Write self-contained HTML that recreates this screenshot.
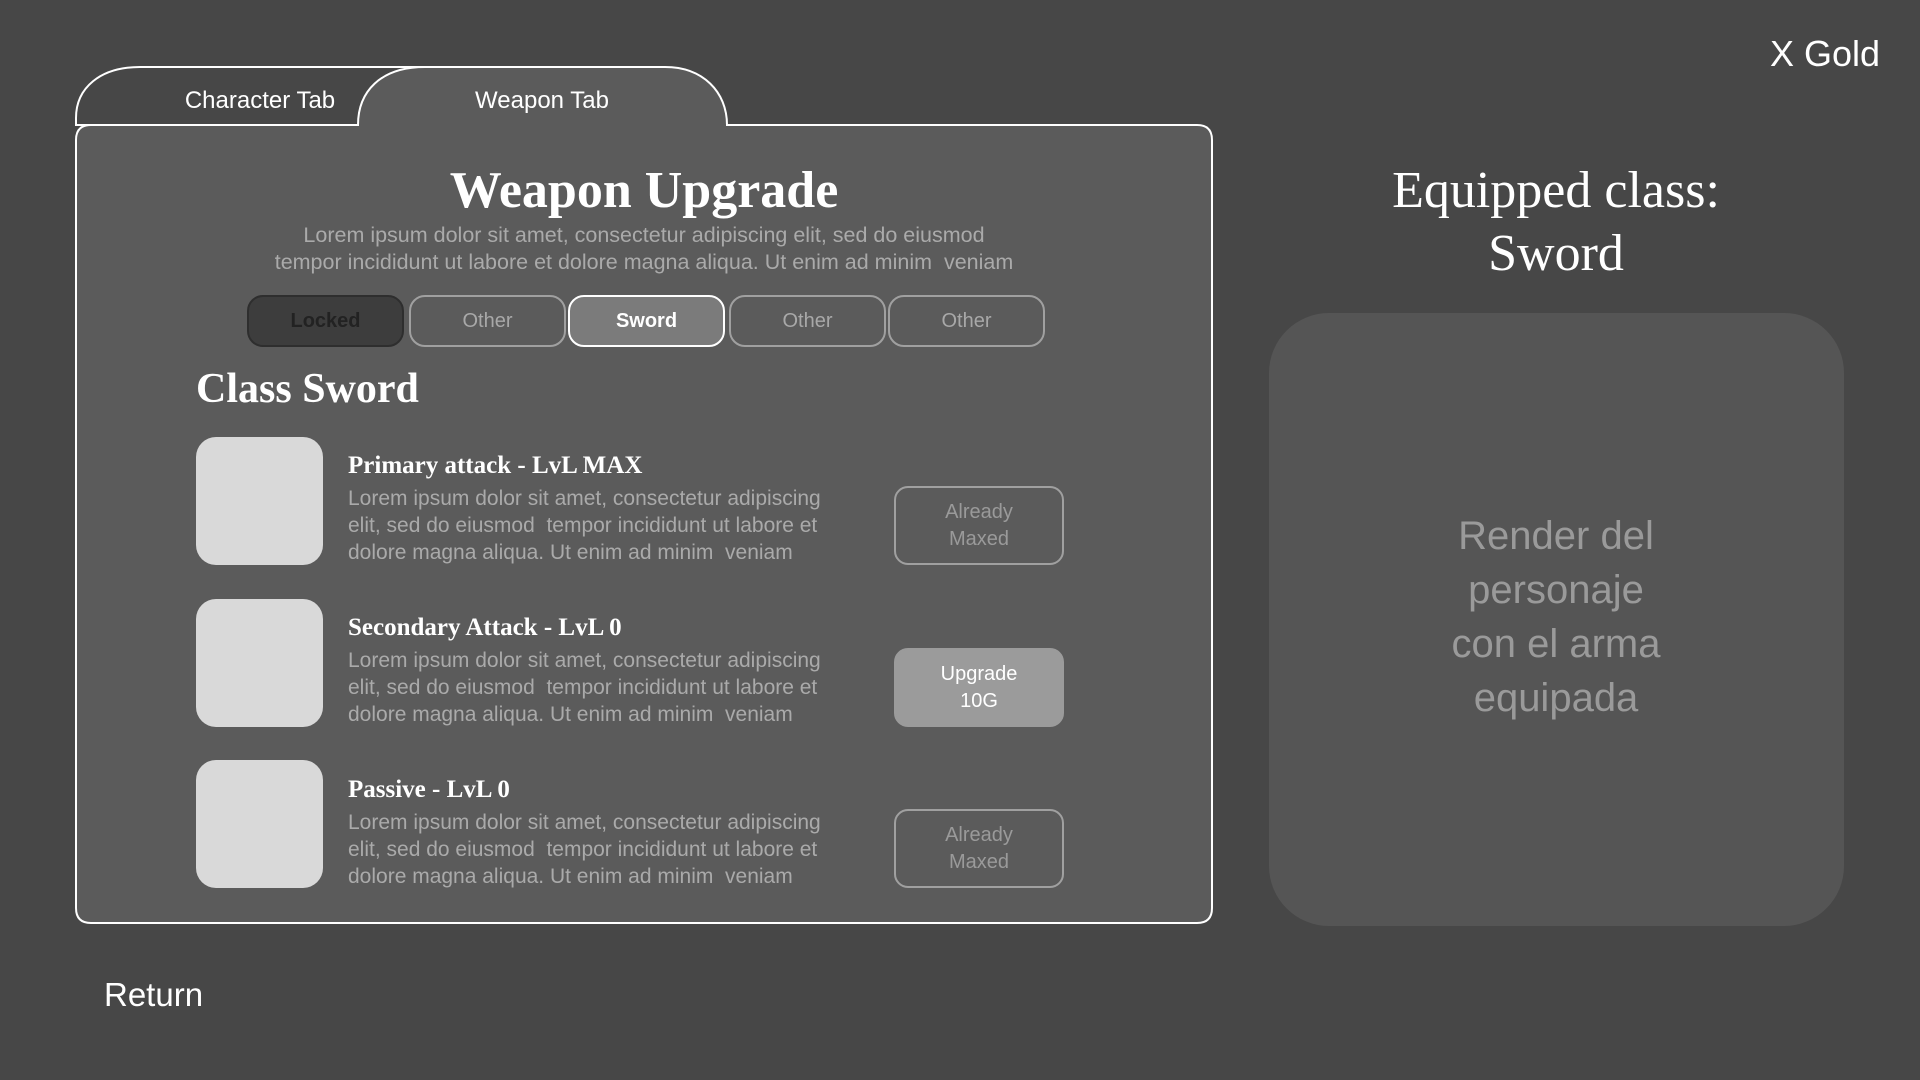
<!DOCTYPE html>
<html><head><meta charset="utf-8"><style>
body{margin:0;width:1920px;height:1080px;background:#474747;position:relative;overflow:hidden;font-family:"Liberation Sans",sans-serif;}
.t{position:absolute;white-space:nowrap;line-height:1;}
.c{transform:translateX(-50%);text-align:center;}
.serif{font-family:"Liberation Serif",serif;}
.btn{position:absolute;top:295px;height:48px;width:153px;border-radius:16px;border:2px solid #a0a0a0;box-sizing:content-box;color:#a8a8a8;font-size:20px;display:flex;align-items:center;justify-content:center;}
.icon{position:absolute;left:196px;width:127px;height:128px;background:#d9d9d9;border-radius:20px;}
.it{position:absolute;left:348px;font-family:"Liberation Serif",serif;font-weight:bold;color:#fff;font-size:25px;white-space:nowrap;}
.d{position:absolute;left:348px;color:#aaa;font-size:21px;line-height:27px;white-space:nowrap;}
.ab{position:absolute;left:894px;width:166px;height:75px;border:2px solid #a0a0a0;border-radius:14px;color:#9a9a9a;font-size:20px;line-height:27px;display:flex;align-items:center;justify-content:center;text-align:center;}
</style></head><body>
<svg width="1920" height="1080" style="position:absolute;left:0;top:0">
<path d="M76,125 L76,118 C76,88 100,67 140,67 L430,67 L400,125 Z" fill="#474747" stroke="#fff" stroke-width="2"/>
<path d="M91,125 L358,125 C358,92 380,67 425,67 L665,67 C703,67 727,92 727,125 L1197,125 Q1212,125 1212,140 L1212,908 Q1212,923 1197,923 L91,923 Q76,923 76,908 L76,140 Q76,125 91,125 Z" fill="#5b5b5b" stroke="#fff" stroke-width="2"/>
<rect x="1269" y="313" width="575" height="613" rx="60" fill="#555"/>
</svg>
<div class="t c" style="left:260px;top:89px;font-size:24px;color:#fff">Character Tab</div>
<div class="t c" style="left:542px;top:89px;font-size:24px;color:#fff">Weapon Tab</div>
<div class="t c serif" style="left:644px;top:165px;font-size:52px;font-weight:bold;color:#fff">Weapon Upgrade</div>
<div class="t c" style="left:644px;top:222px;font-size:21.5px;color:#aaa;line-height:27px">Lorem ipsum dolor sit amet, consectetur adipiscing elit, sed do eiusmod<br>tempor incididunt ut labore et dolore magna aliqua. Ut enim ad minim &nbsp;veniam</div>
<div class="btn" style="left:247px;background:#3d3d3d;border-color:#2e2e2e;color:#222;font-weight:bold">Locked</div>
<div class="btn" style="left:409px">Other</div>
<div class="btn" style="left:568px;background:#7b7b7b;border-color:#fff;color:#fff;font-weight:bold">Sword</div>
<div class="btn" style="left:729px">Other</div>
<div class="btn" style="left:888px">Other</div>
<div class="t serif" style="left:196px;top:368px;font-size:42px;font-weight:bold;color:#fff">Class Sword</div>
<div class="icon" style="top:437px"></div>
<div class="icon" style="top:599px"></div>
<div class="icon" style="top:760px"></div>
<div class="it" style="top:452px">Primary attack - LvL MAX</div>
<div class="d" style="top:485px">Lorem ipsum dolor sit amet, consectetur adipiscing<br>elit, sed do eiusmod &nbsp;tempor incididunt ut labore et<br>dolore magna aliqua. Ut enim ad minim &nbsp;veniam</div>
<div class="it" style="top:614px">Secondary Attack - LvL 0</div>
<div class="d" style="top:647px">Lorem ipsum dolor sit amet, consectetur adipiscing<br>elit, sed do eiusmod &nbsp;tempor incididunt ut labore et<br>dolore magna aliqua. Ut enim ad minim &nbsp;veniam</div>
<div class="it" style="top:776px">Passive - LvL 0</div>
<div class="d" style="top:809px">Lorem ipsum dolor sit amet, consectetur adipiscing<br>elit, sed do eiusmod &nbsp;tempor incididunt ut labore et<br>dolore magna aliqua. Ut enim ad minim &nbsp;veniam</div>
<div class="ab" style="top:486px">Already<br>Maxed</div>
<div class="ab" style="top:648px;background:#9b9b9b;border-color:#9b9b9b;color:#fff">Upgrade<br>10G</div>
<div class="ab" style="top:809px">Already<br>Maxed</div>
<div class="t" style="right:40px;top:36px;font-size:36px;color:#fff">X Gold</div>
<div class="t c serif" style="left:1556px;top:159px;font-size:52px;color:#fff;line-height:63px">Equipped class:<br>Sword</div>
<div class="t c" style="left:1556px;top:509px;font-size:40px;color:#9a9a9a;line-height:54px">Render del<br>personaje<br>con el arma<br>equipada</div>
<div class="t" style="left:104px;top:978px;font-size:33px;color:#fff">Return</div>
</body></html>
